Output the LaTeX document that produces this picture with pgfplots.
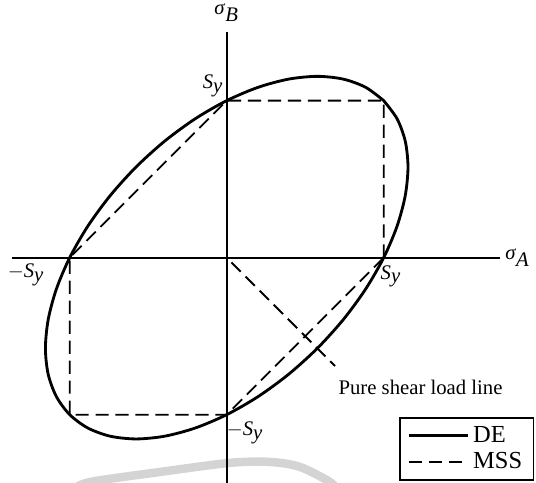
\documentclass[border=0pt]{standalone}
\usepackage{fontspec}
\setmainfont{Liberation Serif}
\usepackage{pgfplots}
\pgfplotsset{compat=1.18}

% yield strength label and stress axis names
\newcommand{\Sy}{\textit{S}\ensuremath{_{\textit{y}}}}
\newcommand{\sig}[1]{\textit{σ}\ensuremath{_{\textit{#1}}}}

\begin{document}
\begin{tikzpicture}[lbl/.style={font=\fontsize{11}{13}\selectfont}]
\begin{axis}[
  name=ax,
  scale only axis,
  width=10cm, height=8.993cm,
  xmin=-1.444, xmax=1.970,
  ymin=-1.429, ymax=1.641,
  hide axis,
  legend style={at={(0.997,0.002)}, anchor=south east, draw=black,
    line width=0.9pt, font=\fontsize{13}{15.5}\selectfont,
    inner xsep=4pt, inner ysep=2.5pt,
    cells={anchor=west}, legend columns=1},
  legend image code/.code={\draw[#1] (0cm,0cm) -- (1.1cm,0cm);},
]
% faint background arc
\addplot[forget plot, smooth, line width=4.5pt, color=black!17]
  coordinates {(-0.98,-1.48) (-0.871,-1.429) (-0.425,-1.365) (0.021,-1.307)
               (0.276,-1.301) (0.467,-1.333) (0.658,-1.429) (0.70,-1.48)};

% principal stress axes
\addplot[forget plot, line width=0.95pt] coordinates {(-1.369,0) (1.741,0)};
\addplot[forget plot, line width=0.95pt] coordinates {(0,1.439) (0,-1.5)};

% distortion-energy ellipse, sigma_A^2 - sigma_A sigma_B + sigma_B^2 = S_y^2
\addplot[line width=1.5pt, smooth] coordinates {
  (1,1) (1.08507,0.88455) (1.13716,0.74222) (1.15470,0.57735) (1.13715,0.39493)
  (1.08507,0.20051) (1.0,0.0) (0.88455,-0.20051) (0.74223,-0.39493)
  (0.57735,-0.57735) (0.39493,-0.74223) (0.20051,-0.88455) (0,-1)
  (-0.20051,-1.08507) (-0.39493,-1.13715) (-0.57735,-1.15471) (-0.74222,-1.13716)
  (-0.88455,-1.08507) (-1,-1) (-1.08507,-0.88455) (-1.13716,-0.74222)
  (-1.15470,-0.57735) (-1.13715,-0.39493) (-1.08507,-0.20051) (-1,0)
  (-0.88455,0.20051) (-0.74223,0.39493) (-0.57735,0.57735) (-0.39493,0.74223)
  (-0.20051,0.88455) (0,1) (0.20051,1.08507) (0.39493,1.13715) (0.57735,1.15471)
  (0.74222,1.13716) (0.88455,1.08507) (1,1)};
\addlegendentry{DE}

% maximum-shear-stress hexagon
\addplot[line width=0.95pt, dash pattern=on 7pt off 3.6pt, line join=miter]
  coordinates {(1,0) (1,1) (0,1) (-1,0) (-1,-1) (0,-1) (1,0)};
\addlegendentry{MSS}

% pure shear load line, sigma_B = -sigma_A
\addplot[forget plot, line width=1pt, dash pattern=on 7pt off 3.6pt]
  coordinates {(0.03,-0.03) (0.69,-0.69)};

% labels
\node[lbl] at (axis cs:1.76,0.0) [anchor=west, inner xsep=1pt] {\sig{A}};
\node[lbl] at (axis cs:0.0,1.559) {\sig{B}};
\node[lbl] at (axis cs:-0.087,1.094) {\Sy};
\node[lbl] at (axis cs:-1.278,-0.11) {$-$\Sy};
\node[lbl] at (axis cs:1.046,-0.117) {\Sy};
\node[lbl] at (axis cs:0.117,-1.116) {$-$\Sy};
\node[lbl] at (axis cs:0.67,-0.824) [anchor=west] {Pure shear load line};

\coordinate (bl) at (rel axis cs:0,0);
\coordinate (tr) at (rel axis cs:1,1);
\end{axis}
\pgfresetboundingbox
\useasboundingbox (bl) rectangle (tr);
\end{tikzpicture}
\end{document}
